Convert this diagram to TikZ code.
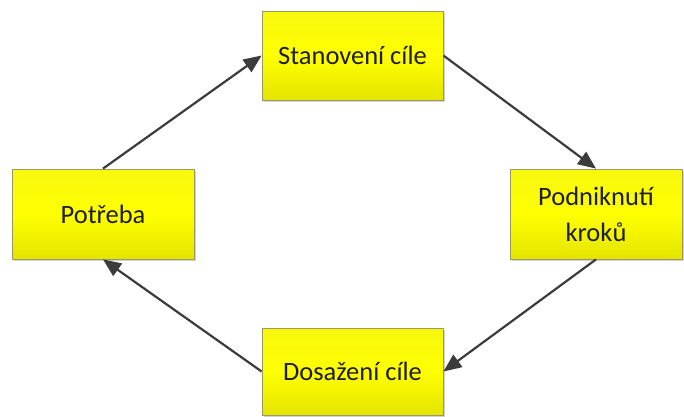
\documentclass[tikz,border=0pt]{standalone}
\usepackage{fontspec}
\setmainfont{Carlito}
\usetikzlibrary{arrows.meta,shadows}
\definecolor{boxtop}{HTML}{F8F810}
\definecolor{boxmid}{HTML}{FFFF00}
\definecolor{boxbot}{HTML}{E4E400}
\definecolor{boxline}{HTML}{9A9A60}
\definecolor{txt}{HTML}{1E1E1E}
\definecolor{arr}{HTML}{3C3C3C}
\tikzset{
  stagebox/.style={draw=boxline, line width=0.8pt, top color=boxtop, bottom color=boxbot, middle color=boxmid,
    align=center, inner sep=0pt, text=txt, font=\fontsize{26.5}{36}\selectfont,
    drop shadow={shadow xshift=2pt, shadow yshift=-2pt, fill=black!35, opacity=0.5}},
  flow/.style={draw=arr, line width=2.2pt, -{Triangle[length=18pt,width=15pt]}}
}
\begin{document}
\begin{tikzpicture}[x=1pt,y=-1pt]
\useasboundingbox (0,0) rectangle (684,416);
\node[stagebox, minimum width=181pt, minimum height=89pt] (A) at (352.5,55.5) {Stanovení cíle};
\node[stagebox, minimum width=182pt, minimum height=90pt] (B) at (103,214) {Potřeba};
\node[stagebox, minimum width=172pt, minimum height=90pt] (C) at (596,214) {Podniknutí\\kroků};
\node[stagebox, minimum width=181pt, minimum height=87pt] (D) at (352.5,371.5) {Dosažení cíle};
\draw[flow] (B.north) -- (A.west);
\draw[flow] (A.east) -- (C.north);
\draw[flow] (C.south) -- (D.east);
\draw[flow] (D.west) -- (B.south);
\end{tikzpicture}
\end{document}
